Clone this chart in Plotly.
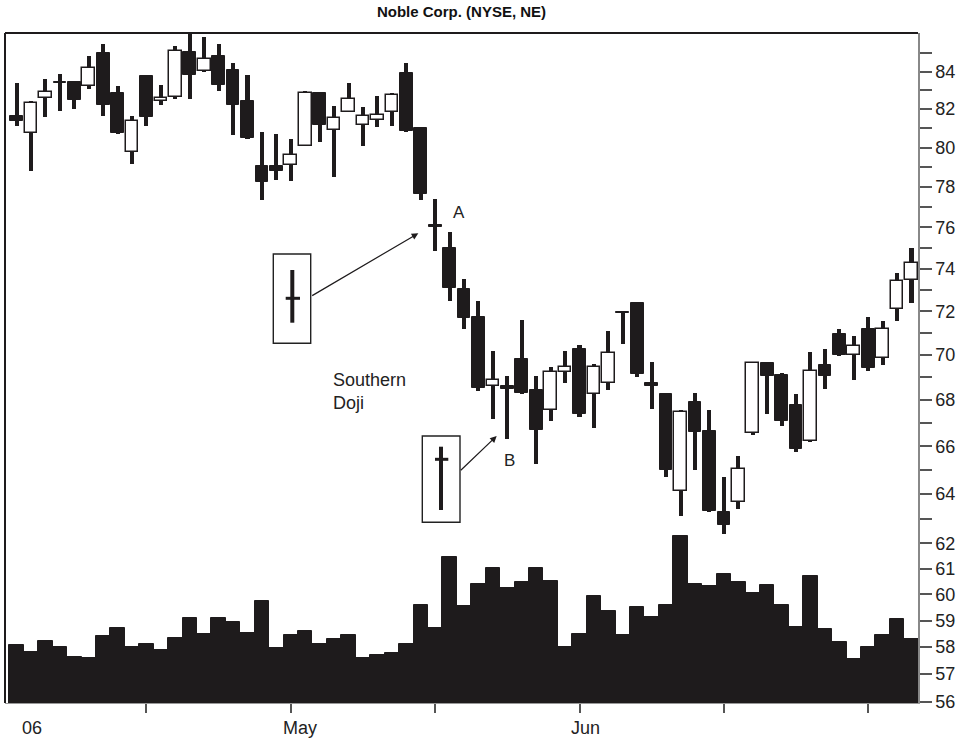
import math
import plotly.graph_objects as go

# ---------------- data ----------------
opens = [81.62, 80.76, 82.59, 83.45, 83.43, 83.21, 85.00, 82.86, 79.77, 83.75,
         82.41, 82.65, 85.08, 84.02, 84.86, 84.10, 82.41, 79.05, 79.05, 79.09,
         80.09, 82.86, 80.93, 81.83, 81.15, 81.45, 81.83, 83.93, 81.01, 76.10,
         75.00, 73.05, 71.74, 68.61, 68.60, 69.84, 68.46, 67.58, 69.23, 70.25,
         68.27, 68.73, 71.95, 72.37, 68.75, 68.28, 64.12, 67.90, 66.65, 63.27,
         63.68, 66.56, 69.65, 69.10, 67.80, 66.22, 69.53, 70.95, 69.98, 71.16,
         69.88, 72.10, 73.44]
highs = [83.40, 82.41, 83.61, 83.88, 83.43, 84.86, 85.53, 83.21, 81.62, 83.75,
         83.30, 85.38, 86.20, 85.90, 85.53, 84.47, 83.84, 80.81, 80.72, 80.45,
         82.95, 82.86, 82.19, 83.40, 82.12, 82.72, 82.86, 84.47, 81.01, 77.41,
         75.75, 73.52, 72.46, 70.17, 69.05, 71.58, 69.05, 69.46, 70.17, 70.44,
         69.58, 71.08, 72.00, 72.40, 69.67, 68.30, 67.55, 68.31, 67.58, 64.70,
         65.58, 69.66, 69.68, 69.21, 68.27, 70.14, 70.28, 71.16, 70.84, 71.74,
         71.53, 73.78, 75.01]
lows = [81.10, 78.79, 81.59, 81.88, 82.00, 83.07, 81.62, 80.70, 79.18, 81.10,
        82.24, 82.56, 82.56, 84.00, 82.95, 80.67, 80.45, 77.32, 78.37, 78.27,
        80.06, 80.27, 78.51, 81.83, 80.09, 81.07, 81.12, 80.79, 77.32, 74.83,
        72.46, 71.16, 68.39, 67.19, 66.32, 68.25, 65.24, 67.08, 68.73, 67.27,
        66.79, 68.46, 70.48, 69.03, 67.61, 64.72, 63.10, 64.99, 63.27, 62.40,
        63.38, 66.50, 67.37, 66.86, 65.75, 66.20, 68.48, 69.95, 68.88, 69.28,
        69.53, 71.53, 72.37]
closes = [81.36, 82.33, 82.89, 83.40, 82.50, 84.20, 82.24, 80.76, 81.36, 81.59,
          82.59, 85.11, 83.84, 84.68, 83.30, 82.24, 80.50, 78.22, 78.79, 79.63,
          82.86, 81.15, 81.54, 82.54, 81.66, 81.71, 82.77, 80.84, 77.66, 76.00,
          73.09, 71.69, 68.54, 68.86, 68.50, 68.31, 66.72, 69.23, 69.46, 67.37,
          69.46, 70.10, 71.90, 69.13, 68.60, 64.99, 67.48, 66.60, 63.31, 62.73,
          65.06, 69.62, 69.05, 67.08, 65.87, 69.28, 69.05, 69.98, 70.41, 69.43,
          71.19, 73.40, 74.29]
# volume histogram, read as levels on the chart's right-hand scale
volume_level = [58.06, 57.83, 58.23, 58.01, 57.63, 57.58, 58.41, 58.72, 58.01, 58.10,
                57.89, 58.33, 59.08, 58.50, 59.08, 58.94, 58.54, 59.74, 57.95, 58.45,
                58.62, 58.10, 58.29, 58.47, 57.58, 57.69, 57.79, 58.10, 59.59, 58.72,
                61.45, 59.57, 60.41, 61.03, 60.26, 60.47, 61.03, 60.53, 58.01, 58.51,
                59.93, 59.36, 58.47, 59.51, 59.14, 59.58, 62.29, 60.42, 60.34, 60.81,
                60.49, 60.04, 60.36, 59.61, 58.76, 60.71, 58.68, 58.20, 57.56, 58.01,
                58.45, 59.07, 58.30]
month_labels = ["06", "May", "Jun"]
y_labeled_ticks = [56, 57, 58, 59, 60, 61, 62, 64, 66, 68, 70, 72, 74, 76, 78, 80, 82, 84]
y_minor_ticks = [63, 65, 67, 69, 71, 73, 75, 77, 79, 81, 83, 85]
title_text = "Noble Corp. (NYSE, NE)"

# ---------------- geometry helpers ----------------
W, H = 962, 739
ML, MR, MT, MB = 5, 44, 33, 36
PW, PH = W - ML - MR, H - MT - MB


def paper(px, py):
    return (px - ML) / PW, (H - MB - py) / PH


INK = "#1e1b1c"
FONT = "Liberation Sans, Arial, sans-serif"
VOL_BASE = 50.0

N = len(opens)
x = list(range(N))

fig = go.Figure()

# volume histogram
fig.add_trace(go.Bar(
    x=x, y=[v - VOL_BASE for v in volume_level], base=[VOL_BASE] * N,
    width=1.0, marker=dict(color=INK, line=dict(color=INK, width=1.0)),
    hoverinfo="skip"))

# wicks
fig.add_trace(go.Bar(
    x=x, y=[h - l for h, l in zip(highs, lows)], base=lows,
    width=0.28, marker=dict(color=INK, line=dict(width=0)), hoverinfo="skip"))

# bodies
up_x = [i for i in x if closes[i] >= opens[i]]
dn_x = [i for i in x if closes[i] < opens[i]]
fig.add_trace(go.Bar(
    x=up_x, y=[closes[i] - opens[i] for i in up_x], base=[opens[i] for i in up_x],
    width=0.88, marker=dict(color="white", line=dict(color=INK, width=1.5)),
    hoverinfo="skip"))
fig.add_trace(go.Bar(
    x=dn_x, y=[opens[i] - closes[i] for i in dn_x], base=[closes[i] for i in dn_x],
    width=0.88, marker=dict(color=INK, line=dict(color=INK, width=1)),
    hoverinfo="skip"))

shapes = []
# frame (top + left black lines)
shapes.append(dict(type="line", xref="paper", yref="paper", x0=0, x1=1, y0=1, y1=1,
                   line=dict(color=INK, width=2)))
shapes.append(dict(type="line", xref="paper", yref="paper", x0=0, x1=0, y0=0, y1=1,
                   line=dict(color=INK, width=2)))


def rect(px0, py0, px1, py1):
    x0, y0 = paper(px0, py1)
    x1, y1 = paper(px1, py0)
    shapes.append(dict(type="rect", xref="paper", yref="paper", x0=x0, x1=x1, y0=y0, y1=y1,
                       line=dict(color="#222", width=1.4), fillcolor="rgba(0,0,0,0)"))


def seg(px0, py0, px1, py1, w):
    x0, y0 = paper(px0, py0)
    x1, y1 = paper(px1, py1)
    shapes.append(dict(type="line", xref="paper", yref="paper", x0=x0, x1=x1, y0=y0, y1=y1,
                       line=dict(color=INK, width=w)))


# legend boxes with doji glyphs
rect(273.3, 254, 310.7, 343.3)
seg(292.3, 270, 292.3, 322.7, 4)
seg(285.7, 298.3, 300, 298.3, 3)
rect(422.3, 436, 460, 522.3)
seg(441, 446.7, 441, 510, 4)
seg(435, 459.3, 448.3, 459.3, 3)

annotations = []


def text(px, py, s, size=18, xanchor="center"):
    xx, yy = paper(px, py)
    annotations.append(dict(xref="paper", yref="paper", x=xx, y=yy, text=s, showarrow=False,
                            xanchor=xanchor, yanchor="middle", align="left",
                            font=dict(family=FONT, size=size, color="#222")))


def arrow(tx, ty, sx, sy):
    xx, yy = paper(tx, ty)
    annotations.append(dict(xref="paper", yref="paper", x=xx, y=yy, text="", showarrow=True,
                            ax=sx - tx, ay=sy - ty, axref="pixel", ayref="pixel",
                            arrowhead=2, arrowsize=1.1, arrowwidth=1.2, arrowcolor=INK,
                            standoff=0))


text(459, 212, "A", 17)
text(509.5, 460, "B", 17)
text(331, 392, "Southern<br>Doji", 18, xanchor="left")
arrow(418.3, 233.3, 310.7, 296.5)
arrow(496.7, 436, 459.3, 471.7)

# month labels under the axis
for lbl, px in zip(month_labels, [32, 300, 585]):
    text(px, 728, lbl, 18)

ytickvals = y_labeled_ticks + y_minor_ticks
yticktext = [str(v) for v in y_labeled_ticks] + [""] * len(y_minor_ticks)

fig.update_layout(
    width=W, height=H,
    margin=dict(l=ML, r=MR, t=MT, b=MB, pad=0, autoexpand=False),
    paper_bgcolor="white", plot_bgcolor="white",
    barmode="overlay", bargap=0, showlegend=False,
    title=dict(text="<b>" + title_text + "</b>", x=461.5 / W, xanchor="center",
               y=1 - 12 / H, yanchor="middle", yref="container",
               font=dict(family=FONT, size=15, color="#111")),
    xaxis=dict(range=[-0.8, 62.45], tickmode="array", tickvals=[9, 19, 29, 39, 49, 59],
               showticklabels=False, ticks="outside", ticklen=9, tickwidth=1.5,
               tickcolor="#555", showgrid=False, zeroline=False,
               showline=True, linecolor="#999", linewidth=1, fixedrange=True),
    yaxis=dict(type="log", side="right",
               range=[math.log10(55.95), math.log10(86.12)],
               tickmode="array", tickvals=ytickvals, ticktext=yticktext,
               ticks="outside", ticklen=12, tickwidth=1.5, tickcolor="#555",
               tickfont=dict(family=FONT, size=18, color="#222"),
               showgrid=False, zeroline=False, showline=True,
               linecolor="#888", linewidth=1.5, fixedrange=True),
    shapes=shapes, annotations=annotations,
)

fig.write_html(
    "out.html",
    config={"displayModeBar": False},
    post_script="document.body.style.margin='0';document.body.style.overflow='hidden';",
)
